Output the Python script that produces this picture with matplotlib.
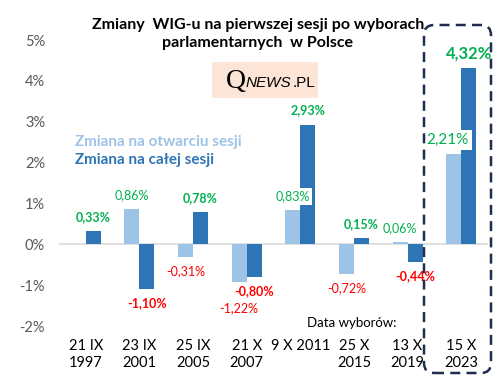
import numpy as np
import matplotlib.pyplot as plt
from matplotlib.patches import FancyBboxPatch, Rectangle
from matplotlib.transforms import IdentityTransform

plt.rcParams['font.family'] = ['Lato', 'DejaVu Sans']

dates = ["21 IX\n1997", "23 IX\n2001", "25 IX\n2005", "21 X\n2007",
         "9 X 2011", "25 X\n2015", "13 X\n2019", "15 X\n2023"]
otwarcie = [np.nan, 0.86, -0.31, -1.22, 0.83, -0.72, 0.06, 2.21]
cala_sesja = [0.33, -1.10, 0.78, -0.80, 2.93, 0.15, -0.44, 4.32]

c_light = "#9DC3E6"
c_dark = "#2E75B6"
green = "#00B050"
red = "#FF0000"

fig = plt.figure(figsize=(5.03, 3.80), dpi=100)
ax = fig.add_axes([59/503, 54/380, 429/503, 286/380])

x = np.arange(len(dates))
w = 0.28
ax.bar(x - w/2, otwarcie, w, color=c_light, zorder=2)
ax.bar(x + w/2, cala_sesja, w, color=c_dark, zorder=2)

ax.set_xlim(-0.5, len(dates) - 0.5)
ax.set_ylim(-2, 5)
ax.axhline(0, color="#D9D9D9", lw=1.2, zorder=1)
ax.set_yticks(range(-2, 6))
ax.set_yticklabels([f"{v}%" for v in range(-2, 6)], color="#595959", fontsize=10.5)
ax.set_xticks(x)
ax.set_xticklabels(dates, fontsize=10.5, color="#000000", linespacing=1.3)
ax.tick_params(axis="y", length=0, pad=10)
ax.tick_params(axis="x", length=0, pad=9)
for s in ax.spines.values():
    s.set_visible(False)


def fmt(v):
    return f"{v:.2f}%".replace(".", ",")


def label(xpos, v, bold, size=9, dx=0):
    if np.isnan(v):
        return
    off = 14 if v >= 0 else -14
    ax.annotate(fmt(v), (xpos, v), xytext=(dx, off), textcoords="offset pixels",
                ha="center", va="center", fontsize=size,
                fontweight="bold" if bold else "normal",
                color=green if v >= 0 else red, zorder=5,
                bbox=dict(boxstyle="square,pad=0.2", fc="white", ec="none"))


for i in range(len(dates)):
    if i == 7:
        label(x[i] - w/2, otwarcie[i], False, size=11, dx=-6)
        label(x[i] + w/2, cala_sesja[i], True, size=12)
    else:
        label(x[i] - w/2, otwarcie[i], False)
        label(x[i] + w/2, cala_sesja[i], True)

# tytuł
fig.text(258/503, 1 - 34/380, "Zmiany  WIG-u na pierwszej sesji po wyborach\nparlamentarnych  w Polsce",
         ha="center", va="center", fontsize=11.5, fontweight="bold", linespacing=1.35)

# legenda jako tekst
fig.text(75/503, 1 - 142/380, "Zmiana na otwarciu sesji", color=c_light,
         fontsize=11, fontweight="bold", va="center")
fig.text(75/503, 1 - 160/380, "Zmiana na całej sesji", color=c_dark,
         fontsize=11, fontweight="bold", va="center")

fig.text(352/503, 1 - 323/380, "Data wyborów:", ha="center", va="center", fontsize=9.5)

# logo
fig.patches.append(Rectangle((212/503, 1 - 98/380), 106/503, 36/380,
                             transform=fig.transFigure, fc="#FCE4D6", ec="none"))
r = fig.canvas.get_renderer()
t_q = fig.text(226/503, 1 - 81/380, "Q", family="Liberation Serif", fontsize=20, va="center")
x1 = t_q.get_window_extent(r).x1 / 503
t_n = fig.text(x1, 1 - 83/380, "NEWS", style="italic", fontsize=11, va="center",
               family="Liberation Sans")
x2 = t_n.get_window_extent(r).x1 / 503
fig.text(x2 + 1/503, 1 - 83/380, ".PL", fontsize=11, va="center", family="Liberation Sans")

# obramowanie 2023
box = FancyBboxPatch((424, 7), 67, 348, boxstyle="round,pad=0,rounding_size=10",
                     transform=IdentityTransform(), fill=False, ec="#1F2D4F",
                     lw=1.8, ls=(0, (4, 2.5)), zorder=10)
fig.patches.append(box)

plt.savefig("out.png", dpi=100)
